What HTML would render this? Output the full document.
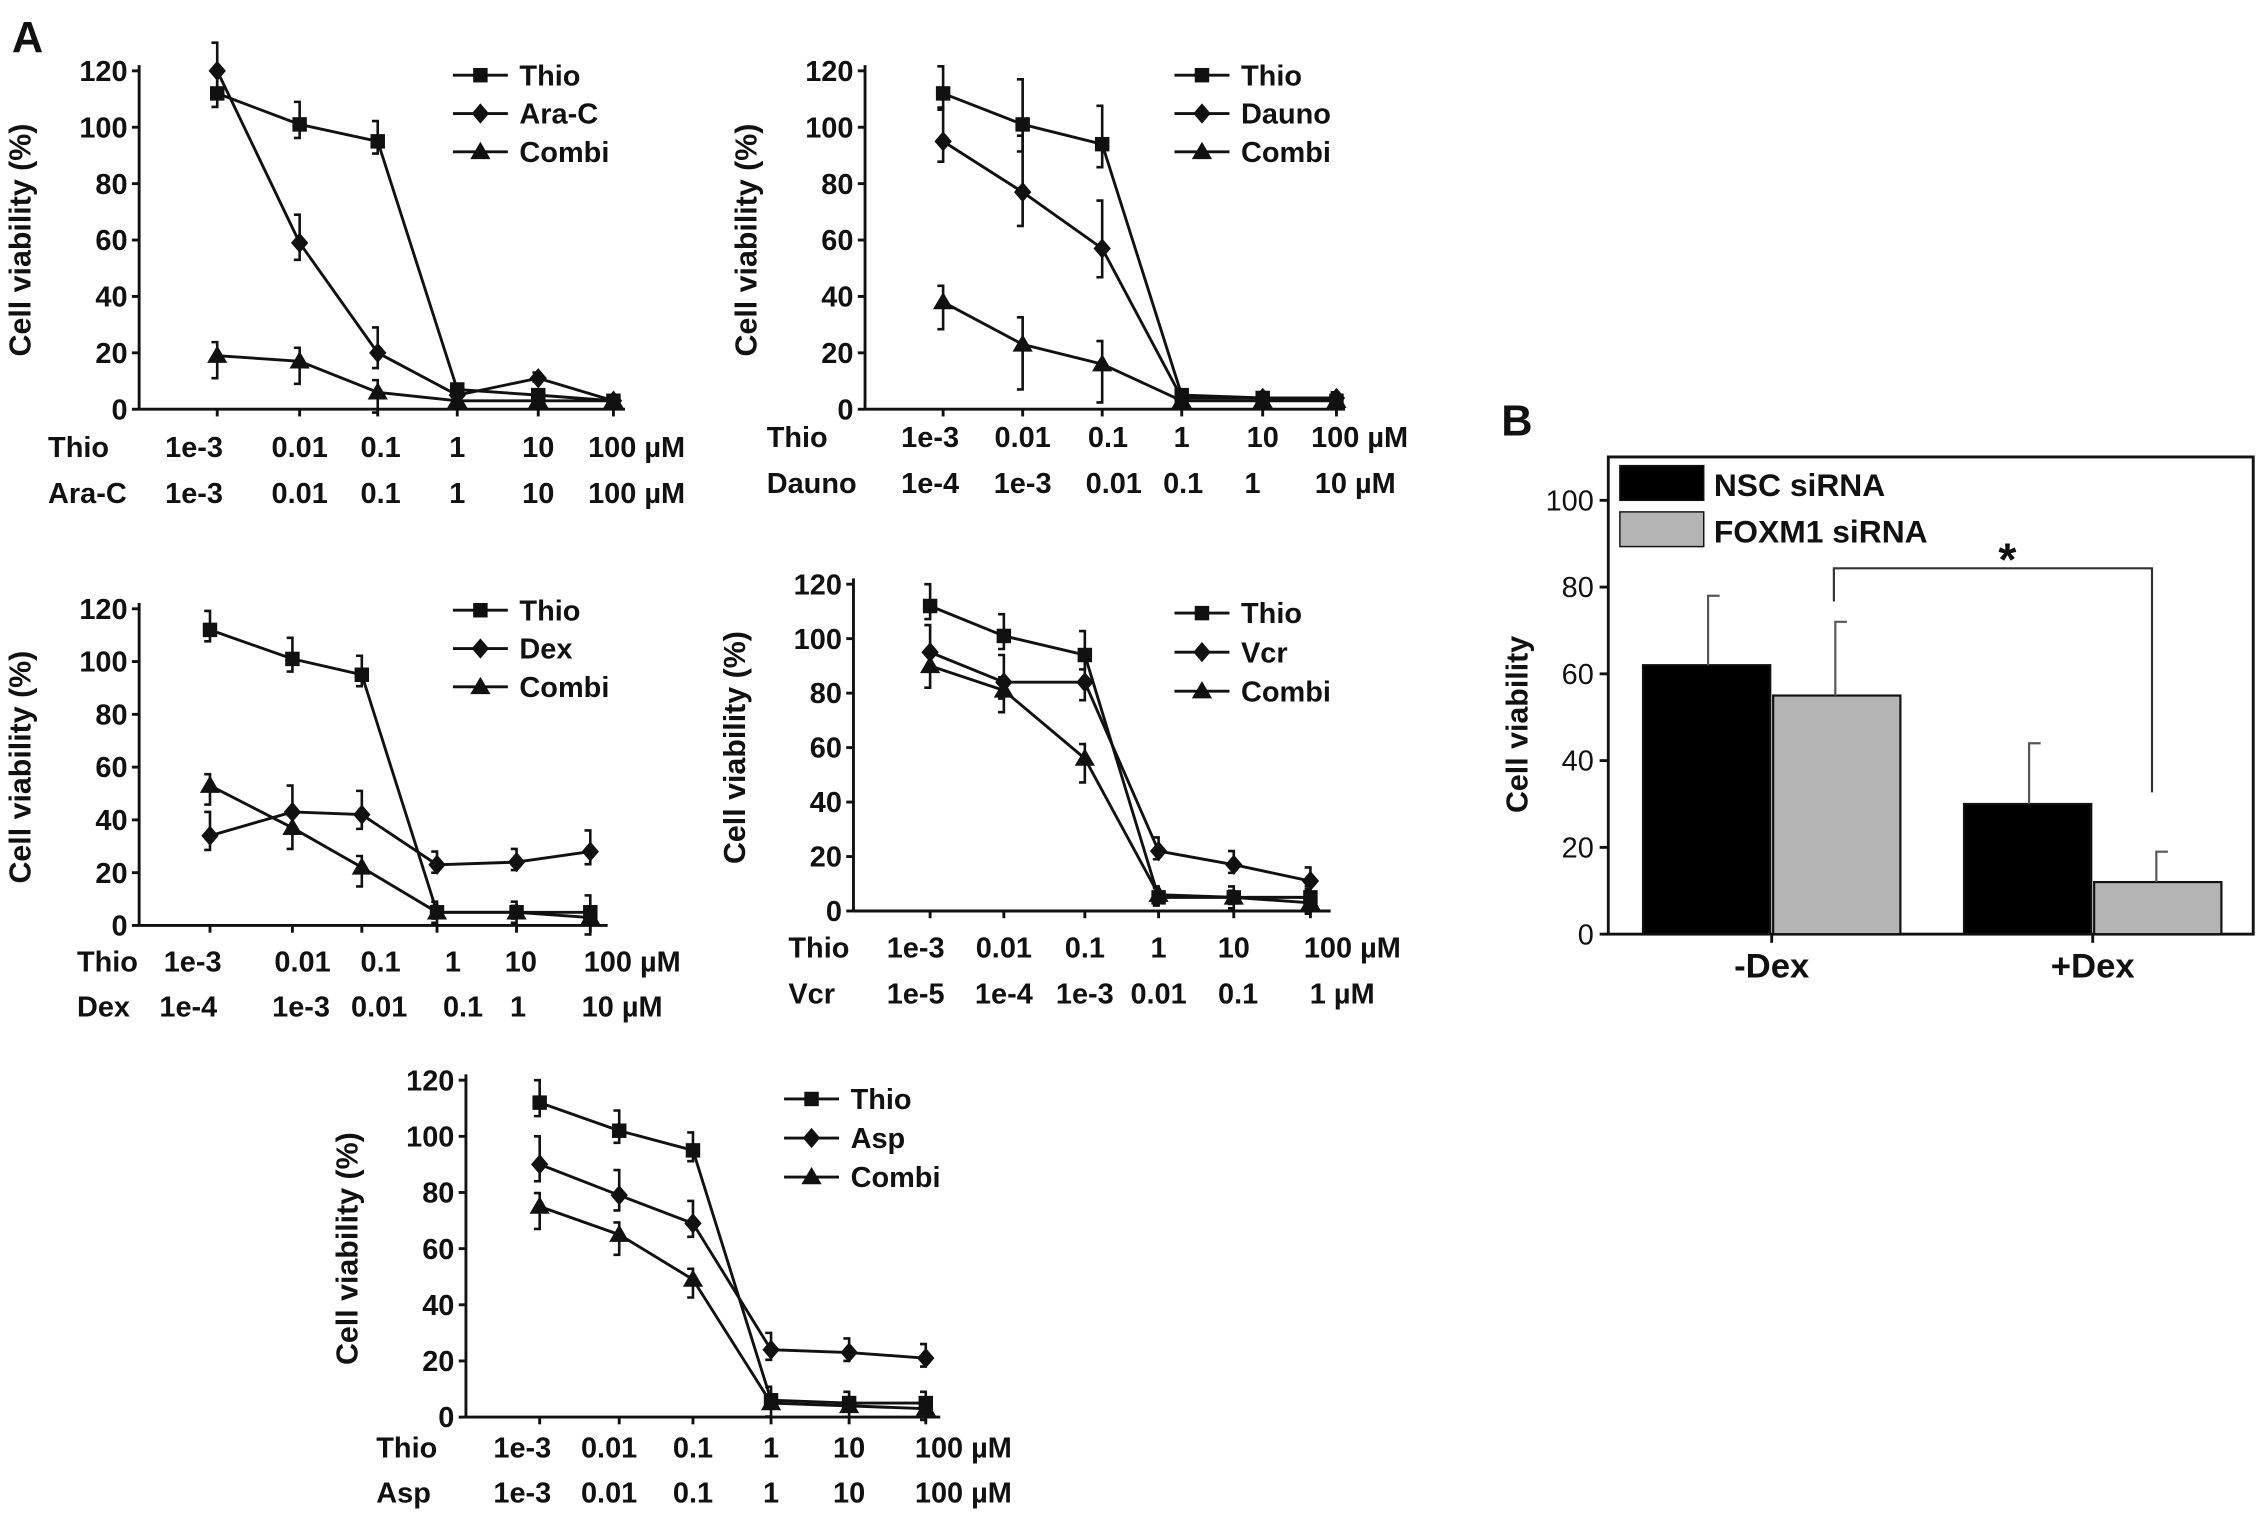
<!DOCTYPE html>
<html><head><meta charset="utf-8"><style>
html,body{margin:0;padding:0;background:#fff}
svg{display:block}
text{font-family:"Liberation Sans",Arial,sans-serif;fill:#111}
</style></head><body>
<svg id="fig" width="2268" height="1527" viewBox="0 0 1568 1056" xmlns="http://www.w3.org/2000/svg">
<text x="8" y="36" font-size="30" font-weight="bold">A</text>
<text x="1038" y="301" font-size="30" font-weight="bold">B</text>
</svg>
<script>
const NS='http://www.w3.org/2000/svg';
const svg=document.getElementById('fig');
// ---- data ----
const p1Thio=[112,101,95,7,5,3];
const p1Drug=[120,59,20,5,11,3];
const p1Combi=[19,17,6,3,3,3];
const p1Err=[10,10,9,2,2,2];
const p2Thio=[112,101,94,5,4,3];
const p2Drug=[95,77,57,4,4,4];
const p2Combi=[38,23,16,3,3,3];
const p2Err=[12,20,17,2,2,2];
const p3Thio=[112,101,95,5,5,5];
const p3Drug=[34,43,42,23,24,28];
const p3Combi=[53,37,22,5,5,3];
const p3Err=[9,10,9,5,5,8];
const p4Thio=[112,101,94,5,5,5];
const p4Drug=[95,84,84,22,17,11];
const p4Combi=[90,81,56,6,5,3];
const p4Err=[10,10,11,5,5,5];
const p5Thio=[112,102,95,6,5,5];
const p5Drug=[90,79,69,24,23,21];
const p5Combi=[75,65,49,5,4,3];
const p5Err=[10,9,8,6,5,5];
const yTicks=[0,20,40,60,80,100,120];
const bGroups=['-Dex','+Dex'];
const bNSC=[62,30];
const bFOX=[55,12];
const bNSCerr=[16,14];
const bFOXerr=[17,7];
const bTicks=[0,20,40,60,80,100];

function el(tag,attrs,parent){const e=document.createElementNS(NS,tag);for(const k in attrs)e.setAttribute(k,attrs[k]);(parent||svg).appendChild(e);return e;}
function txt(s,x,y,size,parent,anchor,weight){const t=el('text',{x:x,y:y,'font-size':size,'text-anchor':anchor||'start','font-weight':weight||'bold'},parent);t.textContent=s;return t;}
function marker(kind,x,y,g){
  if(kind==='sq'){const m=el('rect',{x:x-5,y:y-5,width:10,height:10,fill:'#111'},g);}
  else if(kind==='di'){const m=el('polygon',{points:`${x},${y-7} ${x+6},${y} ${x},${y+7} ${x-6},${y}`,fill:'#111'},g);}
  else {const m=el('polygon',{points:`${x},${y-7} ${x+7},${y+5} ${x-7},${y+5}`,fill:'#111'},g);}
}
function panel(cfg){
  const g=el('g',{});
  
  
  const yv=v=>cfg.y0-(cfg.y0-cfg.y120)*v/120;
  const xv=i=>cfg.xs[i];
  el('line',{x1:cfg.ax,y1:cfg.y120-4,x2:cfg.ax,y2:cfg.y0,stroke:'#111','stroke-width':2},g);
  el('line',{x1:cfg.ax,y1:cfg.y0,x2:cfg.xe,y2:cfg.y0,stroke:'#111','stroke-width':2},g);
  yTicks.forEach(t=>{el('line',{x1:cfg.ax-5,y1:yv(t),x2:cfg.ax,y2:yv(t),stroke:'#111','stroke-width':2},g);
    const l=txt(String(t),cfg.ax-8,yv(t)+7,20,g,'end');});
  for(let i=0;i<6;i++){el('line',{x1:xv(i),y1:cfg.y0,x2:xv(i),y2:cfg.y0+5,stroke:'#111','stroke-width':2},g);}
  const yl=txt('Cell viability (%)',0,0,21,g,'middle','bold');
  yl.setAttribute('transform',`translate(${cfg.ax-75},${(cfg.y0+cfg.y120)/2}) rotate(-90)`);
  
  const series=[[cfg.thio,'sq','Thio'],[cfg.drug,'di',cfg.drugName],[cfg.combi,'tr','Combi']];
  series.forEach((s,si)=>{
    const sg=el('g',{},g);
    
    
    const pts=s[0].map((v,i)=>xv(i)+','+yv(v)).join(' ');
    el('polyline',{points:pts,fill:'none',stroke:'#111','stroke-width':2},sg);
    s[0].forEach((v,i)=>{
      const e=si===1?cfg.err[i]:cfg.err[i]*0.8;
      const dir=si===2?-1:1;
      el('path',{d:`M${xv(i)-4},${yv(v+e*dir)} H${xv(i)} V${yv(v-e*dir*0.6)} H${xv(i)-4}`,fill:'none',stroke:'#111','stroke-width':1.8},sg);
      marker(s[1],xv(i),yv(v),sg);
    });
    const ly=cfg.leg[1]+si*cfg.legGap;
    el('line',{x1:cfg.leg[0],y1:ly,x2:cfg.leg[0]+38,y2:ly,stroke:'#111','stroke-width':2},sg);
    marker(s[1],cfg.leg[0]+19,ly,sg);
    const lt=txt(s[2],cfg.leg[0]+46,ly+7,20,sg);
  });
  cfg.rows.forEach((r,ri)=>{
    const yy=cfg.rowY[ri];
    const h=txt(r[0],cfg.rowLabelX,yy,20,g,'start');
    r[1].forEach((s,i)=>{const t=txt(s,r[2][i],yy,20,g,'middle');});
  });
}
panel({name:'chart-ara-c',ax:96,xe:432,y0:283,y120:49,xs:[150,207,261,316,372,424],thio:p1Thio,drug:p1Drug,combi:p1Combi,err:p1Err,drugName:'Ara-C',
  leg:[313,52],legGap:26.5,rowLabelX:33,rowY:[316,348],
  rows:[['Thio',['1e-3','0.01','0.1','1','10','100 µM'],[134,207,263,316,372,440]],['Ara-C',['1e-3','0.01','0.1','1','10','100 µM'],[134,207,263,316,372,440]]]});
panel({name:'chart-dauno',ax:598,xe:930,y0:283,y120:49,xs:[652,707,762,817,873,924],thio:p2Thio,drug:p2Drug,combi:p2Combi,err:p2Err,drugName:'Dauno',
  leg:[812,52],legGap:26.5,rowLabelX:530,rowY:[309,341],
  rows:[['Thio',['1e-3','0.01','0.1','1','10','100 µM'],[643,707,766,817,873,940]],['Dauno',['1e-4','1e-3','0.01','0.1','1','10 µM'],[643,707,770,818,866,937]]]});
panel({name:'chart-dex',ax:96,xe:420,y0:640,y120:421,xs:[145,202,250,302,357,408],thio:p3Thio,drug:p3Drug,combi:p3Combi,err:p3Err,drugName:'Dex',
  leg:[313,422],legGap:26.5,rowLabelX:53,rowY:[672,703],
  rows:[['Thio',['1e-3','0.01','0.1','1','10','100 µM'],[133,209,263,313,360,437]],['Dex',['1e-4','1e-3','0.01','0.1','1','10 µM'],[130,208,262,320,358,430]]]});
panel({name:'chart-vcr',ax:590,xe:920,y0:630,y120:404,xs:[643,694,750,801,853,906],thio:p4Thio,drug:p4Drug,combi:p4Combi,err:p4Err,drugName:'Vcr',
  leg:[812,424],legGap:27,rowLabelX:545,rowY:[662,694],
  rows:[['Thio',['1e-3','0.01','0.1','1','10','100 µM'],[633,694,750,801,853,935]],['Vcr',['1e-5','1e-4','1e-3','0.01','0.1','1 µM'],[633,694,750,801,856,928]]]});
panel({name:'chart-asp',ax:322,xe:650,y0:980,y120:747,xs:[373,428,479,533,587,640],thio:p5Thio,drug:p5Drug,combi:p5Combi,err:p5Err,drugName:'Asp',
  leg:[542,760],legGap:27,rowLabelX:260,rowY:[1008,1039],
  rows:[['Thio',['1e-3','0.01','0.1','1','10','100 µM'],[361,421,479,533,587,666]],['Asp',['1e-3','0.01','0.1','1','10','100 µM'],[361,421,479,533,587,666]]]});

// ---- Panel B ----
(function(){
  const g=el('g',{});
  
  
  const L=1112,R=1558,T=316,B=646;
  const yv=v=>B-v*3;
  el('rect',{x:L,y:T,width:R-L,height:B-T,fill:'none',stroke:'#111','stroke-width':2},g);
  bTicks.forEach(t=>{el('line',{x1:L-6,y1:yv(t),x2:L,y2:yv(t),stroke:'#111','stroke-width':2},g);
    const l=txt(String(t),L-10,yv(t)+7,20,g,'end','normal');});
  const yl=txt('Cell viability',0,0,21,g,'middle','bold');
  yl.setAttribute('transform',`translate(1056,${(T+B)/2+20}) rotate(-90)`);
  
  const gx=[1225,1447], bw=88;
  bGroups.forEach((name,i)=>{
    const b1=el('rect',{x:gx[i]-bw-1,y:yv(bNSC[i]),width:bw,height:B-yv(bNSC[i]),fill:'#000',stroke:'#111','stroke-width':1.5},g);
    
    const b2=el('rect',{x:gx[i]+1,y:yv(bFOX[i]),width:bw,height:B-yv(bFOX[i]),fill:'#b4b4b4',stroke:'#111','stroke-width':1.5},g);
    
    const c1=gx[i]-bw/2, c2=gx[i]+bw/2;
    el('path',{d:`M${c1},${yv(bNSC[i])} V${yv(bNSC[i]+bNSCerr[i])} H${c1+8}`,fill:'none',stroke:'#555','stroke-width':1.5},g);
    el('path',{d:`M${c2},${yv(bFOX[i])} V${yv(bFOX[i]+bFOXerr[i])} H${c2+8}`,fill:'none',stroke:'#555','stroke-width':1.5},g);
    el('line',{x1:gx[i],y1:B,x2:gx[i],y2:B+6,stroke:'#111','stroke-width':2},g);
    const t=txt(name,gx[i],B+30,24,g,'middle','bold');
  });
  const lg=el('g',{},g);
  el('rect',{x:1120,y:322,width:58,height:24,fill:'#000',stroke:'#111'},lg);
  el('rect',{x:1120,y:354,width:58,height:24,fill:'#b4b4b4',stroke:'#111'},lg);
  const t1=txt('NSC siRNA',1185,343,22,lg,'start','bold');
  const t2=txt('FOXM1 siRNA',1185,375,22,lg,'start','bold');
  const br=el('path',{d:'M1268,416 V393 H1488 V548',fill:'none',stroke:'#333','stroke-width':1.5},g);
  
  const st=txt('*',1388,398,32,g,'middle','bold');
})();
</script>
</body></html>
